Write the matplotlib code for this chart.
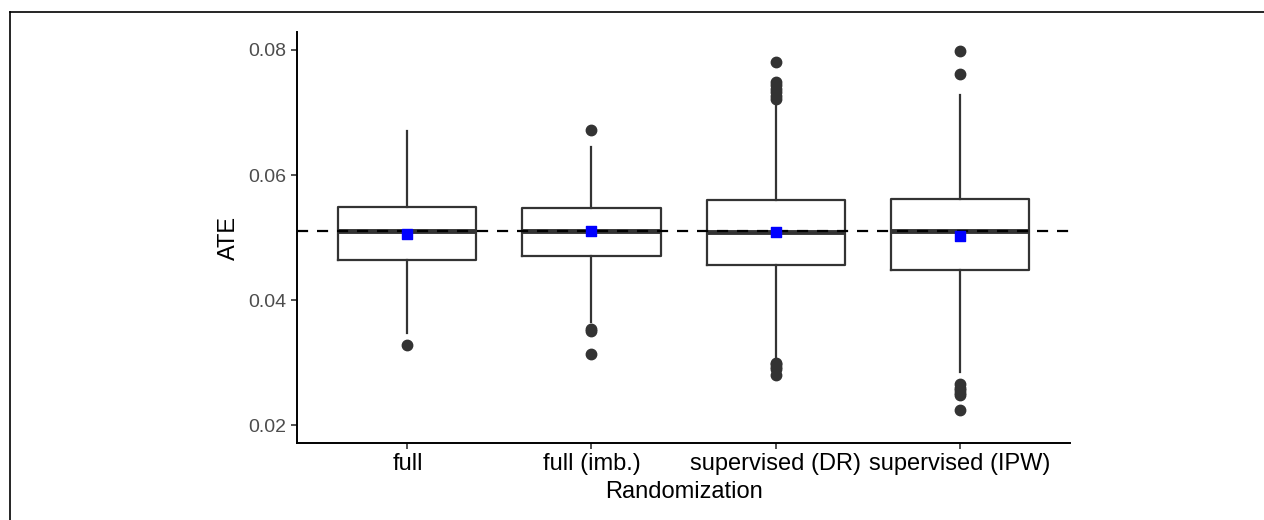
import matplotlib.pyplot as plt
from matplotlib.lines import Line2D

plt.rcParams['font.family'] = ['Liberation Sans', 'DejaVu Sans']

# Data
methods = ["full", "full (imb.)", "supervised (DR)", "supervised (IPW)"]
q1 = [0.0464, 0.0471, 0.0456, 0.0448]
med = [0.0510, 0.0511, 0.0509, 0.0510]
q3 = [0.0549, 0.0548, 0.0560, 0.0561]
whislo = [0.0347, 0.0365, 0.0304, 0.0285]
whishi = [0.0670, 0.0644, 0.0715, 0.0728]
means = [0.0506, 0.0511, 0.0509, 0.0502]
outliers = [
    [0.0328],
    [0.0672, 0.0354, 0.0351, 0.0313],
    [0.0781, 0.0748, 0.0744, 0.0738, 0.0732, 0.0726, 0.0722,
     0.0300, 0.0297, 0.0293, 0.0289, 0.0280],
    [0.0799, 0.0762, 0.0265, 0.0260, 0.0256, 0.0252, 0.0248, 0.0224],
]
true_ate = 0.0511

stats = []
for i, m in enumerate(methods):
    stats.append(dict(label=m, q1=q1[i], med=med[i], q3=q3[i],
                      whislo=whislo[i], whishi=whishi[i], fliers=outliers[i]))

fig = plt.figure(figsize=(12.64, 5.2), dpi=100)
ax = fig.add_axes([0.235, 0.148, 0.6115, 0.7905])

pos = list(range(1, len(methods) + 1))
ax.bxp(stats, positions=pos, widths=0.75, showcaps=False,
       boxprops=dict(color="#333333", linewidth=1.6),
       whiskerprops=dict(color="#333333", linewidth=1.6),
       medianprops=dict(color="#333333", linewidth=3.5),
       flierprops=dict(marker="o", markerfacecolor="#333333",
                       markeredgecolor="#333333", markersize=7.5))

ax.axhline(true_ate, color="black", linestyle=(0, (5, 4)), linewidth=1.6, zorder=3)
ax.scatter(pos, means, marker="s", color="#0000FF", s=42, zorder=4)

ax.set_xlim(0.4, 4.6)
ax.set_ylim(0.01712, 0.08288)
ax.set_yticks([0.02, 0.04, 0.06, 0.08])
ax.set_yticklabels(["0.02", "0.04", "0.06", "0.08"])
ax.set_xticks(pos)
ax.set_xticklabels(methods)

for s in ["top", "right"]:
    ax.spines[s].set_visible(False)
for s in ["left", "bottom"]:
    ax.spines[s].set_linewidth(1.4)
    ax.spines[s].set_color("black")
ax.tick_params(axis="both", colors="#333333", length=4.5, width=1.2)
ax.tick_params(axis="y", labelcolor="#4D4D4D", labelsize=14, pad=3)
ax.tick_params(axis="x", labelcolor="black", labelsize=17, pad=3)

ax.set_xlabel("Randomization", fontsize=17, color="black", labelpad=4)
ax.set_ylabel("ATE", fontsize=17, color="black", labelpad=6)

# outer frame (top and left edges of the image)
fig.add_artist(Line2D([10 / 1264, 1], [1 - 12 / 520, 1 - 12 / 520],
                      transform=fig.transFigure, color="black", linewidth=1.2))
fig.add_artist(Line2D([10 / 1264, 10 / 1264], [0, 1 - 12 / 520],
                      transform=fig.transFigure, color="black", linewidth=1.2))

fig.savefig("out.png", dpi=100)
